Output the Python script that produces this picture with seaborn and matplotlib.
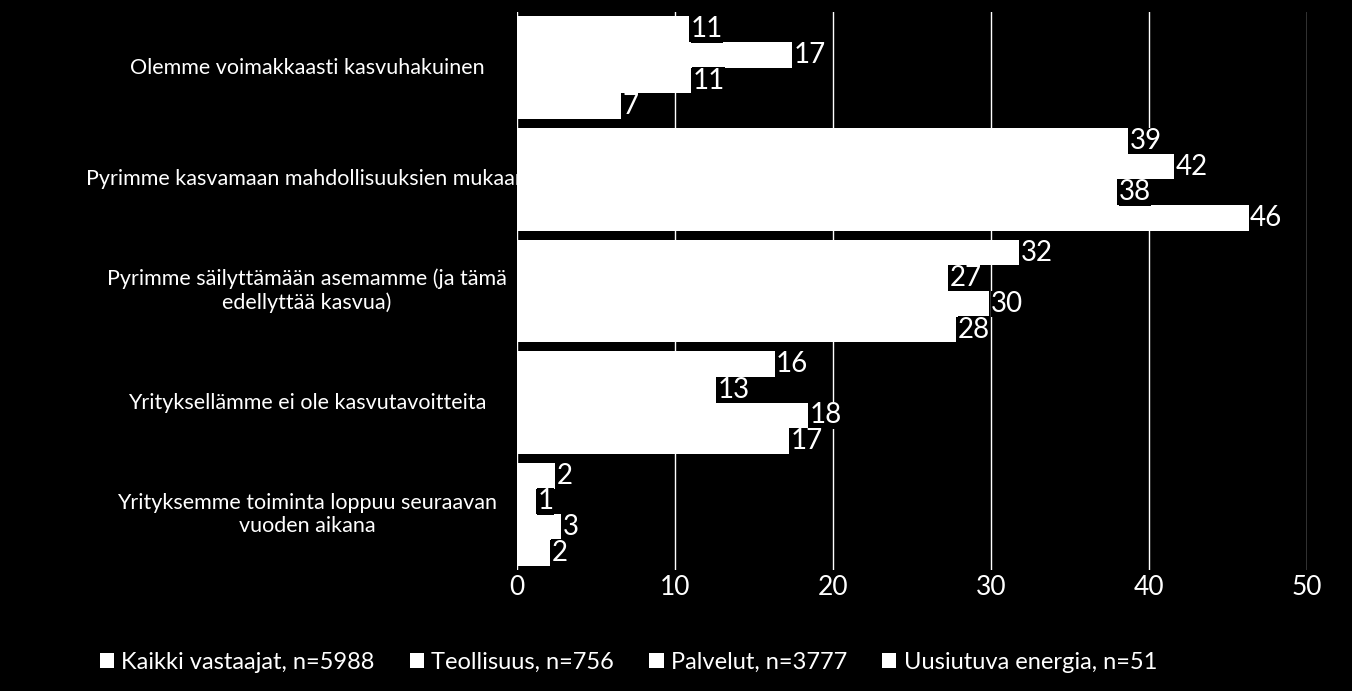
import matplotlib
matplotlib.use("Agg")
import matplotlib.pyplot as plt
import matplotlib.transforms as mtrans
import seaborn as sns
import pandas as pd

categories = ["Olemme voimakkaasti kasvuhakuinen",
              "Pyrimme kasvamaan mahdollisuuksien mukaan",
              "Pyrimme säilyttämään asemamme (ja tämä\nedellyttää kasvua)",
              "Yrityksellämme ei ole kasvutavoitteita",
              "Yrityksemme toiminta loppuu seuraavan\nvuoden aikana"]
series = ["Kaikki vastaajat, n=5988", "Teollisuus, n=756", "Palvelut, n=3777", "Uusiutuva energia, n=51"]
kaikki = [10.9, 38.7, 31.8, 16.3, 2.4]
teollisuus = [17.4, 41.6, 27.3, 12.6, 1.2]
palvelut = [11.0, 38.0, 29.9, 18.4, 2.8]
energia = [6.6, 46.3, 27.8, 17.2, 2.1]

rows = []
for s, vals in zip(series, [kaikki, teollisuus, palvelut, energia]):
    for c, v in zip(categories, vals):
        rows.append({"cat": c, "series": s, "value": v})
df = pd.DataFrame(rows)

plt.rcParams["font.family"] = "Lato"
fig = plt.figure(figsize=(13.52, 6.91), dpi=100, facecolor="black")
ax = fig.add_axes([0.3824, 0.175, 0.5843, 0.8076], facecolor="black")
sns.barplot(data=df, y="cat", x="value", hue="series", orient="h",
            palette=["white"] * 4, edgecolor="none", linewidth=0,
            width=0.92, ax=ax, zorder=2)
ax.set_xlim(0, 50)
ax.set_xticks(range(0, 51, 10))
ax.grid(axis="x", color="white", linewidth=1, zorder=0)
ax.set_axisbelow(True)
for sp in ax.spines.values():
    sp.set_visible(False)
ax.tick_params(colors="white", length=0, labelsize=19)
ax.set_yticklabels([])
ax.set_xlabel("")
ax.set_ylabel("")
trans = mtrans.blended_transform_factory(ax.transAxes, ax.transData)
for i, c in enumerate(categories):
    ax.text(-0.266, i, c, transform=trans, ha="center", va="center",
            multialignment="center", color="white", fontsize=15.5)
for cont in ax.containers:
    for bar in cont:
        w = bar.get_width()
        ax.text(w + 0.1, bar.get_y() + bar.get_height() / 2, f"{w:.0f}",
                color="white", fontsize=20, va="center", ha="left",
                bbox=dict(facecolor="black", edgecolor="none", pad=0.3), zorder=5)
leg = ax.legend(loc="center left", bbox_to_anchor=(-0.555, -0.165), ncol=4, frameon=False,
                fontsize=17, labelcolor="white", handlelength=0.6, handleheight=0.6,
                handletextpad=0.3, columnspacing=1.5)
for h in leg.legend_handles:
    h.set_facecolor("white")
fig.savefig("out.png", facecolor="black")
